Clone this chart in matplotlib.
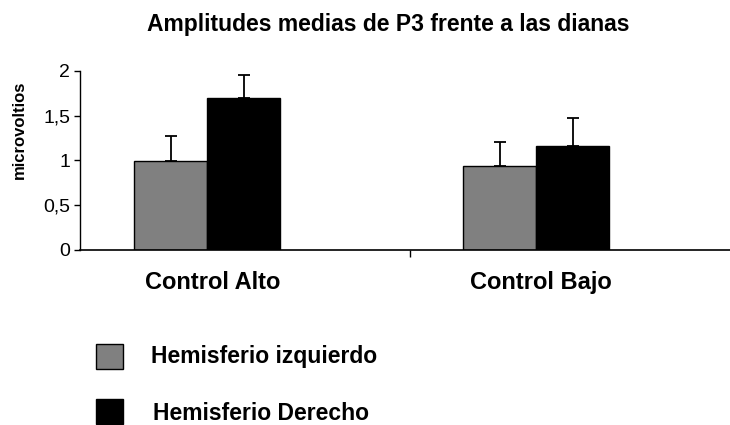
import numpy as np
import matplotlib
matplotlib.use("Agg")
import matplotlib.pyplot as plt
from matplotlib.patches import Rectangle

plt.rcParams['font.family'] = ['Liberation Sans', 'DejaVu Sans']

# amplitudes medias (microvoltios) y error estandar
grupos = ['Control Alto', 'Control Bajo']
izquierdo = [0.99, 0.94]
izquierdo_err = [0.28, 0.26]
derecho = [1.69, 1.165]
derecho_err = [0.26, 0.31]
series = ['Hemisferio izquierdo', 'Hemisferio Derecho']
yticks = [0, 0.5, 1, 1.5, 2]
ytick_labels = ['0', '0,5', '1', '1,5', '2']

fig = plt.figure(figsize=(7.3, 4.25), dpi=100)
ax = fig.add_axes([80 / 730, 1 - 250 / 425, 650 / 730, (250 - 70.7) / 425])

x = np.arange(len(grupos))
w = 0.222
kw = dict(edgecolor='black', linewidth=1.0, capsize=4,
          error_kw=dict(elinewidth=1.3, capthick=1.3, ecolor='black'))
ax.bar(x - w / 2, izquierdo, w, color='#808080',
       yerr=[np.zeros(len(grupos)), izquierdo_err], **kw)
ax.bar(x + w / 2, derecho, w, color='black',
       yerr=[np.zeros(len(grupos)), derecho_err], **kw)

ax.set_ylim(0, 2)
ax.set_xlim(-0.387, 1.589)
ax.set_yticks(yticks)
ax.set_yticklabels(ytick_labels, fontsize=14)
ax.set_xticks(x + 0.015)
ax.set_xticklabels(grupos, fontsize=17, fontweight='bold')
ax.tick_params(axis='x', which='major', length=0, pad=15)
ax.set_xticks([0.616], minor=True)
ax.tick_params(axis='x', which='minor', length=5, direction='out', width=1)
ax.tick_params(axis='y', length=4, direction='out', width=1, pad=3)

for s in ['top', 'right']:
    ax.spines[s].set_visible(False)
ax.spines['left'].set_linewidth(1)
ax.spines['bottom'].set_linewidth(1.2)

ax.set_ylabel('microvoltios', fontsize=12, fontweight='bold')
ax.yaxis.set_label_coords((27 - 80) / 650, (250 - 130) / (250 - 70.7))
fig.text(388 / 730, 1 - 25 / 425, 'Amplitudes medias de P3 frente a las dianas',
         ha='center', va='center', fontsize=16.5, fontweight='bold')

# leyenda manual debajo del grafico
for i, (nombre, col) in enumerate(zip(series, ['#808080', 'black'])):
    y0 = 1 - (369 + 55 * i) / 425
    fig.patches.append(Rectangle((96 / 730, y0), 27 / 730, 25 / 425,
                                 transform=fig.transFigure, facecolor=col,
                                 edgecolor='black', linewidth=1))
    fig.text((151 + 2 * i) / 730, 1 - (357 + 56 * i) / 425, nombre,
             ha='left', va='center', fontsize=16.5, fontweight='bold')

fig.savefig('out.png', dpi=100)
